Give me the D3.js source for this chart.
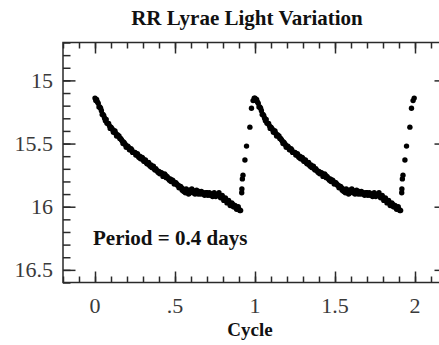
<!DOCTYPE html>
<html>
<head>
<meta charset="utf-8">
<script src="https://cdn.jsdelivr.net/npm/d3@7"></script>
<style>
  html, body { margin: 0; padding: 0; background: #fff; }
  svg { display: block; }
  text { font-family: "Liberation Serif", "Times New Roman", serif; }
</style>
</head>
<body>
<svg id="chart" width="439" height="345"></svg>
<script>
// One pulsation cycle of RR Lyrae: phase (fraction of period) and V magnitude.
// Observations on the decline, then the fast rise back to maximum.
const phase = [
  0.00, 0.01, 0.02, 0.03, 0.04, 0.05, 0.06, 0.07, 0.08, 0.09,
  0.10, 0.11, 0.12, 0.13, 0.14, 0.15, 0.16, 0.17, 0.18, 0.19,
  0.20, 0.21, 0.22, 0.23, 0.24, 0.25, 0.26, 0.27, 0.28, 0.29,
  0.30, 0.31, 0.32, 0.33, 0.34, 0.35, 0.36, 0.37, 0.38, 0.39,
  0.40, 0.41, 0.42, 0.43, 0.44, 0.45, 0.46, 0.47, 0.48, 0.49,
  0.50, 0.51, 0.52, 0.53, 0.54, 0.55, 0.56, 0.57, 0.58, 0.59,
  0.60, 0.61, 0.62, 0.63, 0.64, 0.65, 0.66, 0.67, 0.68, 0.69,
  0.70, 0.71, 0.72, 0.73, 0.74, 0.75, 0.76, 0.77, 0.78, 0.79,
  0.80, 0.81, 0.82, 0.83, 0.84, 0.85, 0.86, 0.87, 0.88, 0.89,
  0.90, 0.91,
  0.005, 0.015, 0.025, 0.035, 0.045, 0.055, 0.065, 0.075, 0.085, 0.095,
  0.105, 0.115, 0.125, 0.135, 0.145, 0.155, 0.165, 0.175, 0.185, 0.195,
  0.205, 0.215, 0.225, 0.235, 0.245, 0.255, 0.265, 0.275, 0.285, 0.295,
  0.305, 0.315, 0.325, 0.335, 0.345, 0.355, 0.365, 0.375, 0.385, 0.395,
  0.405, 0.415, 0.425, 0.435, 0.445, 0.455, 0.465, 0.475, 0.485, 0.495,
  0.505, 0.515, 0.525, 0.535, 0.545, 0.555, 0.565, 0.575, 0.585, 0.595,
  0.605, 0.615, 0.625, 0.635, 0.645, 0.655, 0.665, 0.675, 0.685, 0.695,
  0.705, 0.715, 0.725, 0.735, 0.745, 0.755, 0.765, 0.775, 0.785, 0.795,
  0.805, 0.815, 0.825, 0.835, 0.845, 0.855, 0.865, 0.875, 0.885, 0.895,
  0.905,
  0.917, 0.918, 0.921, 0.925, 0.937, 0.947, 0.968, 0.978, 0.988, 0.995
];
const magnitude = [
  15.14, 15.15, 15.18, 15.21, 15.24, 15.27, 15.30, 15.31, 15.34, 15.36,
  15.37, 15.39, 15.40, 15.42, 15.43, 15.44, 15.46, 15.48, 15.49, 15.51,
  15.52, 15.53, 15.55, 15.55, 15.57, 15.57, 15.59, 15.60, 15.60, 15.62,
  15.62, 15.64, 15.65, 15.66, 15.67, 15.67, 15.69, 15.70, 15.70, 15.72,
  15.72, 15.73, 15.74, 15.75, 15.75, 15.76, 15.78, 15.78, 15.79, 15.80,
  15.81, 15.82, 15.83, 15.84, 15.85, 15.86, 15.87, 15.86, 15.88, 15.87,
  15.88, 15.87, 15.89, 15.88, 15.89, 15.88, 15.90, 15.89, 15.89, 15.90,
  15.89, 15.90, 15.91, 15.90, 15.91, 15.90, 15.91, 15.90, 15.91, 15.92,
  15.93, 15.94, 15.95, 15.96, 15.97, 15.98, 15.98, 16.00, 16.00, 16.01,
  16.02, 16.03,
  15.16, 15.17, 15.21, 15.22, 15.27, 15.28, 15.32, 15.34, 15.34, 15.38,
  15.38, 15.41, 15.40, 15.44, 15.44, 15.46, 15.47, 15.50, 15.50, 15.53,
  15.52, 15.55, 15.54, 15.57, 15.57, 15.59, 15.58, 15.61, 15.62, 15.61,
  15.64, 15.63, 15.66, 15.65, 15.68, 15.69, 15.68, 15.71, 15.71, 15.73,
  15.74, 15.73, 15.76, 15.74, 15.77, 15.77, 15.79, 15.80, 15.79, 15.82,
  15.81, 15.83, 15.85, 15.84, 15.87, 15.88, 15.89, 15.88, 15.90, 15.89,
  15.86, 15.89, 15.90, 15.87, 15.90, 15.89, 15.88, 15.90, 15.91, 15.89,
  15.91, 15.89, 15.90, 15.92, 15.89, 15.92, 15.91, 15.89, 15.93, 15.91,
  15.95, 15.93, 15.97, 15.95, 15.99, 15.97, 16.00, 15.99, 16.02, 16.00,
  16.03,
  15.89, 15.86, 15.78, 15.75, 15.63, 15.52, 15.37, 15.22, 15.16, 15.14
];
// The cycle is plotted twice, one period apart.
const cycles = [0, 1];

const xTickValues = [0, 0.5, 1, 1.5, 2];
const xTickLabels = ["0", ".5", "1", "1.5", "2"];
const yTickValues = [15, 15.5, 16, 16.5];
const yTickLabels = ["15", "15.5", "16", "16.5"];

const title = "RR Lyrae Light Variation";
const xTitle = "Cycle";
const note = "Period = 0.4 days";

const svg = d3.select("#chart");
const plotLeft = 63, plotRight = 447, plotTop = 42.5, plotBottom = 282.5;

const x = d3.scaleLinear().domain([-0.2, 2.2]).range([plotLeft, plotRight]);
const y = d3.scaleLinear().domain([14.7, 16.6]).range([plotTop, plotBottom]);

const ink = "#2a2a2a";
const labelInk = "#3a3a3a";

const xMinor = d3.range(-2, 23).map(i => i / 10);
const yMinor = d3.range(147, 167).map(i => i / 10);

function styleAxis(g) {
  g.select(".domain").remove();
  g.selectAll("line").attr("stroke", ink).attr("stroke-width", 1.5);
}

// bottom and top: minor ticks every 0.1, major every 0.5 (all pointing inward)
[[d3.axisBottom, plotBottom], [d3.axisTop, plotTop]].forEach(([ax, pos]) => {
  svg.append("g").attr("transform", `translate(0,${pos})`)
    .call(ax(x).tickValues(xMinor).tickSize(-6).tickFormat(""))
    .call(styleAxis);
  svg.append("g").attr("transform", `translate(0,${pos})`)
    .call(ax(x).tickValues(xTickValues).tickSize(-11).tickFormat(""))
    .call(styleAxis);
});
// left and right
[[d3.axisLeft, plotLeft], [d3.axisRight, plotRight]].forEach(([ax, pos]) => {
  svg.append("g").attr("transform", `translate(${pos},0)`)
    .call(ax(y).tickValues(yMinor).tickSize(-7.5).tickFormat(""))
    .call(styleAxis);
  svg.append("g").attr("transform", `translate(${pos},0)`)
    .call(ax(y).tickValues(yTickValues).tickSize(-12.5).tickFormat(""))
    .call(styleAxis);
});

// frame
svg.append("rect")
  .attr("x", plotLeft).attr("y", plotTop)
  .attr("width", plotRight - plotLeft).attr("height", plotBottom - plotTop)
  .attr("fill", "none").attr("stroke", ink).attr("stroke-width", 1.5);

// tick labels
svg.append("g").selectAll("text").data(xTickValues).join("text")
  .attr("x", d => x(d)).attr("y", 313)
  .attr("text-anchor", "middle")
  .attr("font-size", 22).attr("fill", labelInk)
  .text((d, i) => xTickLabels[i]);

svg.append("g").selectAll("text").data(yTickValues).join("text")
  .attr("x", 53).attr("y", d => y(d) + 7.5)
  .attr("text-anchor", "end")
  .attr("font-size", 22).attr("fill", labelInk)
  .text((d, i) => yTickLabels[i]);

// light curve points
const pts = cycles.flatMap(c => phase.map((p, i) => ({ p: p + c, m: magnitude[i] })));
svg.append("g").selectAll("circle").data(pts).join("circle")
  .attr("cx", d => x(d.p)).attr("cy", d => y(d.m))
  .attr("r", 2.7).attr("fill", "#000");

// titles
svg.append("text").attr("x", 247).attr("y", 25)
  .attr("text-anchor", "middle").attr("font-weight", "bold")
  .attr("font-size", 21).attr("fill", "#111").text(title);

svg.append("text").attr("x", 250).attr("y", 336)
  .attr("text-anchor", "middle").attr("font-weight", "bold")
  .attr("font-size", 19).attr("fill", "#111").text(xTitle);

svg.append("text").attr("x", 93).attr("y", 245)
  .attr("font-weight", "bold")
  .attr("font-size", 21).attr("fill", "#111").text(note);
</script>
</body>
</html>
